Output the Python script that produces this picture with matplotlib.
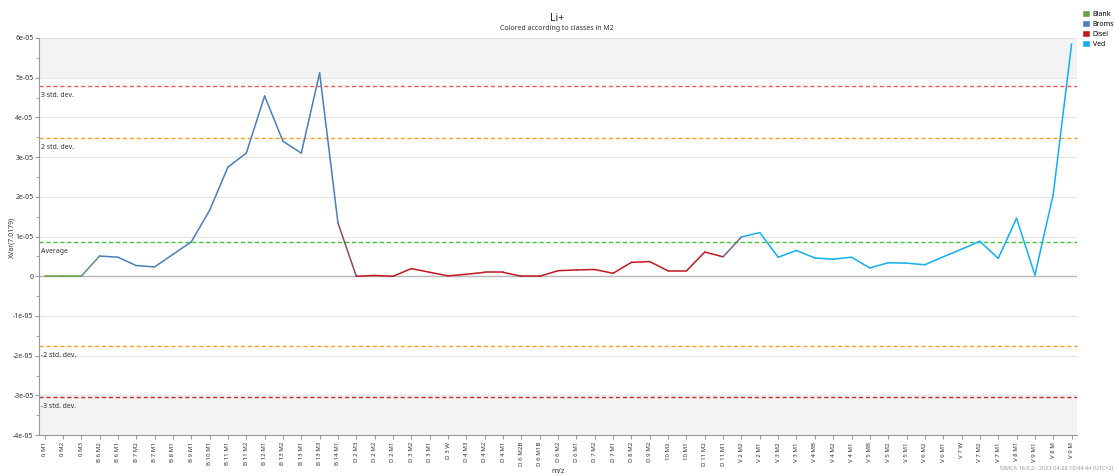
import numpy as np
import matplotlib
matplotlib.use("Agg")
import matplotlib.pyplot as plt
from matplotlib.patches import Patch
from matplotlib.ticker import FixedLocator, MultipleLocator

plt.rcParams['font.family'] = ['Noto Sans', 'DejaVu Sans']

labels = ["0 M1", "0 M2", "0 M3", "B 6 M2", "B 6 M1", "B 7 M2", "B 7 M1", "B 8 M1",
          "B 9 M1", "B 10 M1", "B 11 M1", "B 11 M2", "B 12 M1", "B 13 M2", "B 13 M1",
          "B 13 M3", "B 14 M1", "D 2 M3", "D 2 M2", "D 2 M1", "D 3 M2", "D 3 M1", "D 3 W",
          "D 4 M3", "D 4 M2", "D 4 M1", "D 6 M2B", "D 6 M1B", "D 6 M2", "D 6 M1", "D 7 M2",
          "D 7 M1", "D 8 M2", "D 9 M2", "10 M2", "10 M1", "D 11 M2", "D 11 M1", "V 2 M2",
          "V 2 M1", "V 3 M2", "V 3 M1", "V 4 MB", "V 4 M2", "V 4 M1", "V 5 MB", "V 5 M2",
          "V 5 M1", "V 6 M2", "V 6 M1", "V 7 W", "V 7 M2", "V 7 M1", "V 8 M1", "V 9 M1",
          "V 8 M", "V 9 M"]

# values in units of 1e-06
values = [0, 0, 0, 5.1, 4.8, 2.7, 2.35, 5.5, 8.65, 16.6, 27.5, 31.0, 45.4, 34.0, 31.0,
          51.2, 13.4, 0, 0.2, 0, 1.93, 1.0, 0.1, 0.5, 1.0, 1.0, 0, 0, 1.4, 1.6, 1.7, 0.75,
          3.5, 3.7, 1.35, 1.35, 6.1, 4.9, 9.9, 11.0, 4.8, 6.5, 4.6, 4.3, 4.8, 2.1, 3.4, 3.3,
          2.9, 4.9, 6.8, 8.8, 4.5, 14.6, 0.3, 20.6, 58.5]

classes = ["Blank"] * 3 + ["Broms"] * 14 + ["Disel"] * 21 + ["Ved"] * 19

class_names = ["Blank", "Broms", "Disel", "Ved"]
class_colors = {"Blank": "#6a9f45", "Broms": "#4a7ebb", "Disel": "#c0191f", "Ved": "#12aef0"}

# reference lines (x1e-06)
ref_vals = [47.9, 34.8, 8.6, -17.6, -30.5]
ref_names = ["3 std. dev.", "2 std. dev.", "Average", "-2 std. dev.", "-3 std. dev."]
ref_colors = ["#f25a5a", "#ffa31a", "#3cc43c", "#ffa31a", "#c8262b"]

y = np.array(values) * 1e-6
x = np.arange(len(labels))

fig = plt.figure(figsize=(11.15, 4.75), dpi=100)
ax = fig.add_axes([0.035, 0.084, 0.931, 0.836])

ax.set_xlim(-0.3, len(labels) - 1 + 0.3)
ax.set_ylim(-4e-5, 6e-5)

# shaded zones
ax.axhspan(5e-5, 6e-5, color="#f3f3f3", zorder=0, lw=0)
ax.axhspan(-4e-5, -3.05e-5, color="#f3f3f3", zorder=0, lw=0)

# grid
for v in np.arange(-4, 7) * 1e-5:
    ax.axhline(v, color="#e4e4e4", lw=0.8, zorder=1)
ax.axhline(0, color="#b8b8b8", lw=1.0, zorder=1)

for v, n, c in zip(ref_vals, ref_names, ref_colors):
    ax.axhline(v * 1e-6, color=c, lw=1.0, ls=(0, (3, 2)), zorder=2)
    ax.text(-0.2, v * 1e-6 - 0.15e-5, n, fontsize=5, color="#333333", va="top", ha="left")

# line segments coloured by class
for i in range(len(x) - 1):
    c1 = class_colors[classes[i]]
    c2 = class_colors[classes[i + 1]]
    if c1 == c2:
        col = c1
    else:
        a = np.array(matplotlib.colors.to_rgb(c1))
        b = np.array(matplotlib.colors.to_rgb(c2))
        col = tuple((a + b) / 2)
    ax.plot(x[i:i + 2], y[i:i + 2], color=col, lw=1.1, zorder=3, solid_capstyle="round")

# axes styling
for s in ["top", "right"]:
    ax.spines[s].set_visible(False)
ax.spines["left"].set_color("#999999")
ax.spines["bottom"].set_color("#999999")

ax.yaxis.set_major_locator(FixedLocator(np.arange(-4, 7) * 1e-5))
ax.yaxis.set_minor_locator(MultipleLocator(0.5e-5))
ax.set_yticklabels(["0" if k == 0 else "%de-05" % k for k in range(-4, 7)])
ax.tick_params(axis="y", which="major", labelsize=5, length=3, color="#999999", labelcolor="#333333", pad=1)
ax.tick_params(axis="y", which="minor", length=2, color="#999999")

ax.set_xticks(x)
ax.set_xticklabels(labels, rotation=90, fontsize=4.4, color="#333333")
ax.tick_params(axis="x", length=3, color="#999999", pad=2)

ax.set_xlabel("m/z", fontsize=5.5, color="#333333", labelpad=1)
fig.text(0.011, 0.5, "XVar(7.0179)", rotation=90, ha="center", va="center",
         fontsize=5, color="#333333")

fig.text(0.4995, 0.962, "Li+", ha="center", va="center", fontsize=7.5, color="#222222")
fig.text(0.4995, 0.94, "Colored according to classes in M2", ha="center", va="center",
         fontsize=5, color="#333333")

handles = [Patch(facecolor=class_colors[n], edgecolor="white", label=n) for n in class_names]
fig.legend(handles=handles, loc="upper left", bbox_to_anchor=(0.968, 0.985), frameon=False,
           fontsize=5, handlelength=1.1, handleheight=1.1, handletextpad=0.4, labelspacing=0.35,
           borderaxespad=0)

fig.text(0.998, 0.008, "SIMCA 16.0.2 - 2023-04-28 10:44:44 (UTC+2)", ha="right", va="bottom",
         fontsize=4, color="#999999")

fig.savefig("out.png", dpi=100)
